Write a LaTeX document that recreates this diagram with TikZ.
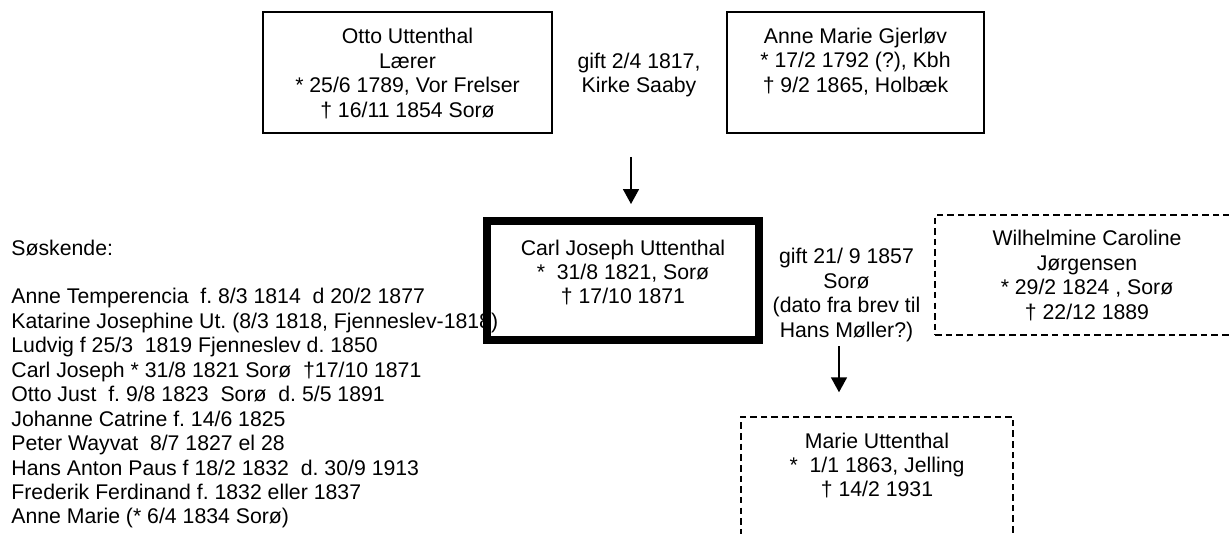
\documentclass[tikz,border=0pt]{standalone}
\usepackage{fontspec}
\setmainfont{Liberation Sans}
\usetikzlibrary{arrows.meta}
\def\pxu{0.4705pt}
\begin{document}
\begin{tikzpicture}[x=0.4705pt,y=-0.4705pt,
  every node/.style={font=\fontsize{10}{11.5}\selectfont\frenchspacing},
  txt/.style={align=center,inner sep=0pt},
  listtxt/.style={align=left,inner sep=0pt,anchor=west},
  personbox/.style={draw,line width=0.6pt,inner sep=0pt},
  mainbox/.style={draw,line width=3.76pt,inner sep=0pt},
  otherbox/.style={draw,line width=0.7pt,dash pattern=on 3.1pt off 1.9pt,inner sep=0pt},
  arr/.style={line width=0.7pt,-{Triangle[width=7.5pt,length=7pt]}}]
\useasboundingbox (0,0) rectangle (1229,534);

% siblings list (drawn first, the thick box covers part of it)
\node[listtxt] (sib) at (11,384) {S\o skende:\\[11.5pt]
Anne Temperencia\ \ f. 8/3 1814\ \ d 20/2 1877\\
Katarine Josephine Ut. (8/3 1818, Fjenneslev-1818)\\
Ludvig f 25/3\ \ 1819 Fjenneslev d. 1850\\
Carl Joseph * 31/8 1821 Sorø\ \ †17/10 1871\\
Otto Just\ \ f. 9/8 1823\ \ Sorø\ \ d. 5/5 1891\\
Johanne Catrine f. 14/6 1825\\
Peter Wayvat\ \ 8/7 1827 el 28\\
Hans Anton Paus f 18/2 1832\ \ d. 30/9 1913\\
Frederik Ferdinand f. 1832 eller 1837\\
Anne Marie (* 6/4 1834 Sorø)};

% boxes
\node[personbox, minimum width=289*\pxu, minimum height=121*\pxu] (otto) at (407.5,72.5) {};
\node[personbox, minimum width=257*\pxu, minimum height=121*\pxu] (anne) at (855.5,72.5) {};
\node[mainbox, minimum width=272*\pxu, minimum height=119*\pxu] (carl) at (623,280.5) {};
\node[otherbox, minimum width=316*\pxu, minimum height=120*\pxu] (wilh) at (1093,275) {};
\node[otherbox, minimum width=272*\pxu, minimum height=120*\pxu] (marie) at (877,477) {};

% box texts
\node[txt] (ottotxt) at (407.5,73.5) {Otto Uttenthal\\Lærer\\* 25/6 1789, Vor Frelser\\† 16/11 1854 Sorø};
\node[txt] (annetxt) at (855.5,61.5) {Anne Marie Gjerløv\\* 17/2 1792 (?), Kbh\\† 9/2 1865, Holbæk};
\node[txt] (carltxt) at (623,272.5) {Carl Joseph Uttenthal\\*\ \ 31/8 1821, Sorø\\† 17/10 1871};
\node[txt] (wilhtxt) at (1087,275.5) {Wilhelmine Caroline\\Jørgensen\\* 29/2 1824 , Sorø\\† 22/12 1889};
\node[txt] (marietxt) at (877,465.5) {Marie Uttenthal\\*\ \ 1/1 1863, Jelling\\† 14/2 1931};

% marriage labels
\node[txt] (gift1) at (639,75) {gift 2/4 1817,\\Kirke Saaby};
\node[txt] (gift2) at (846.5,295) {gift 21/ 9 1857\\Sorø\\(dato fra brev til\\Hans Møller?)};

% arrows
\coordinate (m1) at (631,157);
\coordinate (m2) at (839,346);
\draw[arr, shorten >=13*\pxu] (m1) -- (m1 |- carl.north);
\draw[arr, shorten >=24*\pxu] (m2) -- (m2 |- marie.north);
\end{tikzpicture}
\end{document}
